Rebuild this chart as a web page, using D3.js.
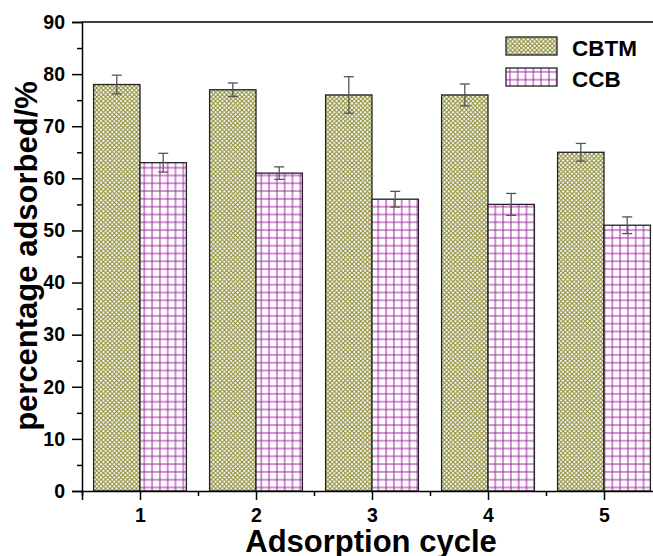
<!DOCTYPE html>
<html>
<head>
<meta charset="utf-8">
<script src="https://cdn.jsdelivr.net/npm/d3@7"></script>
<style>
  body { margin: 0; background: #fff; }
  svg text { font-family: "Liberation Sans", Arial, sans-serif; font-weight: bold; }
</style>
</head>
<body>
<div id="chart"></div>
<script>
// Data
var cycles = [1, 2, 3, 4, 5];
var cbtm = [78, 77, 76, 76, 65];
var cbtmErr = [1.8, 1.3, 3.5, 2.1, 1.7];
var ccb = [63, 61, 56, 55, 51];
var ccbErr = [1.8, 1.2, 1.5, 2.1, 1.6];
var yTicks = [0, 10, 20, 30, 40, 50, 60, 70, 80, 90];

var w = 653, h = 556;
var plotLeft = 82, plotTop = 22, plotBottom = 491;

var svg = d3.select("#chart").append("svg")
    .attr("width", w)
    .attr("height", h);

// patterns for the two series
var defs = svg.append("defs");
var hatch = defs.append("pattern")
    .attr("id", "hatch")
    .attr("patternUnits", "userSpaceOnUse")
    .attr("width", 4.4).attr("height", 4.4);
hatch.append("rect").attr("width", 4.4).attr("height", 4.4).attr("fill", "#fff");
hatch.append("path")
    .attr("d", "M0,0L4.4,4.4M4.4,0L0,4.4")
    .attr("stroke", "#85852a")
    .attr("stroke-width", 1.0);

var grid = defs.append("pattern")
    .attr("id", "grid")
    .attr("patternUnits", "userSpaceOnUse")
    .attr("width", 7.8).attr("height", 7.8);
grid.append("rect").attr("width", 7.8).attr("height", 7.8).attr("fill", "#fff");
grid.append("path")
    .attr("d", "M3.9,0V7.8M0,3.9H7.8")
    .attr("stroke", "#9e22a0")
    .attr("stroke-width", 1.0);

var x = d3.scaleLinear().domain([0.5, 5.5]).range([plotLeft, plotLeft + 580]);
var y = d3.scaleLinear().domain([0, 90]).range([plotBottom, plotTop]);
var barW = x(0.4) - x(0);

// bars
var series = [
    { vals: cbtm, err: cbtmErr, fill: "url(#hatch)", off: -0.4 },
    { vals: ccb, err: ccbErr, fill: "url(#grid)", off: 0 }
];

series.forEach(function (s) {
    var g = svg.append("g");
    g.selectAll("rect")
        .data(s.vals)
        .enter()
        .append("rect")
        .attr("x", function (d, i) { return x(cycles[i] + s.off); })
        .attr("y", function (d) { return y(d); })
        .attr("width", barW)
        .attr("height", function (d) { return plotBottom - y(d); })
        .attr("fill", s.fill)
        .attr("stroke", "#222")
        .attr("stroke-width", 1.3);

    // error bars
    var e = svg.append("g").attr("stroke", "#555").attr("stroke-width", 1.3);
    s.vals.forEach(function (d, i) {
        var cx = x(cycles[i] + s.off + 0.2);
        var y1 = y(d + s.err[i]), y2 = y(d - s.err[i]);
        e.append("line").attr("x1", cx).attr("x2", cx).attr("y1", y1).attr("y2", y2);
        e.append("line").attr("x1", cx - 5).attr("x2", cx + 5).attr("y1", y1).attr("y2", y1);
        e.append("line").attr("x1", cx - 5).attr("x2", cx + 5).attr("y1", y2).attr("y2", y2);
    });
});

// top frame line
svg.append("line")
    .attr("x1", plotLeft).attr("x2", w).attr("y1", plotTop).attr("y2", plotTop)
    .attr("stroke", "#000").attr("stroke-width", 1.5);

// y axis
var yAxis = svg.append("g")
    .attr("transform", "translate(" + plotLeft + ",0)")
    .call(d3.axisLeft(y).tickValues(yTicks).tickSize(10).tickPadding(7));
svg.append("g")
    .attr("transform", "translate(" + plotLeft + ",0)")
    .call(d3.axisLeft(y).tickValues(d3.range(5, 90, 10)).tickSize(5).tickFormat(""))
    .select(".domain").remove();

// x axis
var xAxis = svg.append("g")
    .attr("transform", "translate(0," + plotBottom + ")")
    .call(d3.axisBottom(x).tickValues(cycles).tickSize(9).tickPadding(8).tickFormat(d3.format("d")));
svg.append("g")
    .attr("transform", "translate(0," + plotBottom + ")")
    .call(d3.axisBottom(x).tickValues([0.5, 1.5, 2.5, 3.5, 4.5, 5.5]).tickSize(5).tickFormat(""))
    .select(".domain").remove();

svg.selectAll(".domain").attr("stroke-width", 1.5);
svg.selectAll(".tick line").attr("stroke-width", 1.5);
yAxis.selectAll("text").attr("font-size", 19.5).attr("fill", "#000");
xAxis.selectAll("text").attr("font-size", 19.5).attr("fill", "#000");

// axis titles
svg.append("text")
    .attr("transform", "translate(37,256) rotate(-90)")
    .attr("text-anchor", "middle")
    .attr("font-size", 31)
    .text("percentage adsorbed/%");

svg.append("text")
    .attr("x", 371)
    .attr("y", 552)
    .attr("text-anchor", "middle")
    .attr("font-size", 31)
    .text("Adsorption cycle");

// legend
var legend = [
    { name: "CBTM", fill: "url(#hatch)" },
    { name: "CCB", fill: "url(#grid)" }
];
var lg = svg.append("g").selectAll("g")
    .data(legend)
    .enter()
    .append("g")
    .attr("transform", function (d, i) { return "translate(506," + (37 + i * 31) + ")"; });
lg.append("rect")
    .attr("width", 51).attr("height", 18)
    .attr("fill", function (d) { return d.fill; })
    .attr("stroke", "#222").attr("stroke-width", 1.3);
lg.append("text")
    .attr("x", 66).attr("y", 19)
    .attr("font-size", 22.5)
    .text(function (d) { return d.name; });
</script>
</body>
</html>
